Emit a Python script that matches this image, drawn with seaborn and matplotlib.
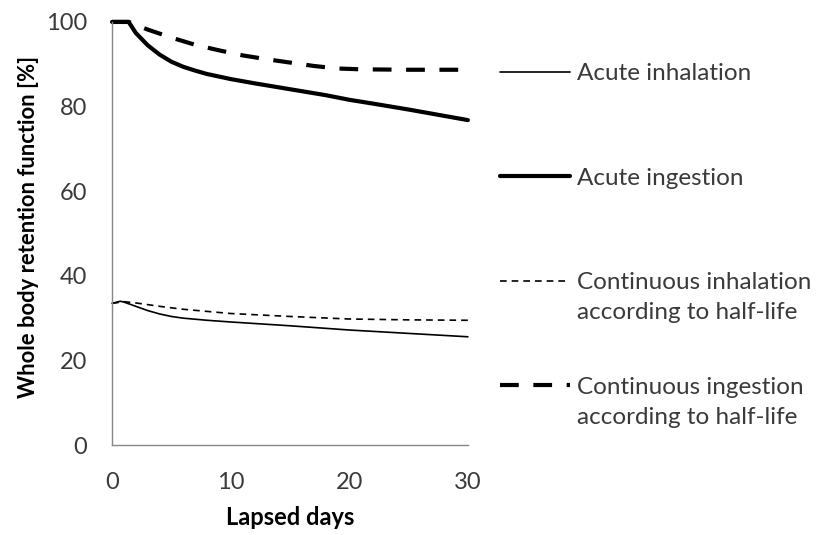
import matplotlib
matplotlib.use("Agg")
import matplotlib.pyplot as plt
import pandas as pd
import seaborn as sns

# ---- data ----
days_inh_acute = [0, 0.7, 1, 2, 3, 4, 5, 6, 8, 10, 15, 20, 25, 30]
acute_inhalation = [33.5, 34.0, 33.8, 32.8, 31.8, 31.0, 30.4, 30.0, 29.5, 29.1, 28.2, 27.2, 26.4, 25.6]

days_ing_acute = [0, 1.4, 2, 3, 4, 5, 6, 7, 8, 10, 12, 15, 18, 20, 22, 25, 28, 30]
acute_ingestion = [100, 100, 97.4, 94.5, 92.3, 90.6, 89.4, 88.5, 87.7, 86.5, 85.5, 84.1,
                   82.7, 81.6, 80.7, 79.3, 77.8, 76.8]

days_inh_cont = [0, 1, 2, 4, 6, 8, 10, 15, 20, 25, 30]
cont_inhalation = [33.5, 33.9, 33.6, 32.8, 32.1, 31.6, 31.1, 30.4, 29.8, 29.6, 29.5]

days_ing_cont = [0, 1.4, 3, 5, 7, 9, 11, 13, 15, 17, 19, 21, 25, 30]
cont_ingestion = [100, 100, 98.2, 96.3, 94.6, 93.3, 92.1, 91.2, 90.4, 89.6, 89.0, 88.8, 88.7, 88.7]

legend_first = ["Acute inhalation", "Acute ingestion", "Continuous inhalation", "Continuous ingestion"]
legend_second = ["", "", "according to half-life", "according to half-life"]

x_ticks = [0, 10, 20, 30]
y_ticks = [0, 20, 40, 60, 80, 100]

# ---- style ----
sns.set_theme(style="white")
plt.rcParams["font.family"] = ["Lato", "DejaVu Sans"]
AXIS_GREY = "#868686"
TEXT_GREY = "#3a3a3a"
LEG_SIZE = 17.5

fig, ax = plt.subplots(figsize=(8.18, 5.35), dpi=100)
fig.subplots_adjust(left=0.137, right=0.572, bottom=0.168, top=0.959)

series = [
    (days_inh_acute, acute_inhalation, 1.2, "-"),
    (days_ing_acute, acute_ingestion, 3.0, "-"),
    (days_inh_cont, cont_inhalation, 1.2, (0, (4, 3))),
    (days_ing_cont, cont_ingestion, 3.0, (0, (4.5, 3.5))),
]
for (xs, ys, lw, ls), lab in zip(series, legend_first):
    df = pd.DataFrame({"day": xs, "value": ys})
    sns.lineplot(data=df, x="day", y="value", ax=ax, color="black",
                 linewidth=lw, linestyle=ls, label=lab, clip_on=False)

ax.set_xlim(0, 30)
ax.set_ylim(0, 100)
ax.set_xticks(x_ticks)
ax.set_yticks(y_ticks)
ax.tick_params(axis="both", direction="in", length=7, width=1, color=AXIS_GREY,
               labelsize=17, labelcolor=TEXT_GREY)
ax.tick_params(axis="x", pad=19)
ax.tick_params(axis="y", pad=18)
for side in ("top", "right"):
    ax.spines[side].set_visible(False)
for side in ("left", "bottom"):
    ax.spines[side].set_color(AXIS_GREY)
    ax.spines[side].set_linewidth(1)

ax.set_xlabel("Lapsed days", fontsize=17, fontweight="bold", labelpad=10, color="black")
ax.set_ylabel("Whole body retention function [%]", fontsize=15.8, fontweight="bold",
              color="black")
ax.yaxis.set_label_coords(-0.205, 0.515)

ax.get_legend().remove()
handles, labels = ax.get_legend_handles_labels()
leg = fig.legend(handles, labels, loc="upper left", bbox_to_anchor=(500 / 818, 1 - 63 / 535),
                 frameon=False, fontsize=LEG_SIZE, handlelength=2.88, handletextpad=0.29,
                 labelspacing=3.44, borderpad=0, borderaxespad=0, labelcolor=TEXT_GREY)

# second line of the two-line legend labels, placed under the first line
fig.canvas.draw()
to_fig = fig.transFigure.inverted()
for txt, extra in zip(leg.get_texts(), legend_second):
    if not extra:
        continue
    bb = txt.get_window_extent()
    x, y = to_fig.transform((bb.x0, bb.y0 - 30))
    fig.text(x, y, extra, fontsize=LEG_SIZE, color=TEXT_GREY, ha="left", va="bottom")

fig.savefig("out.png", dpi=100)
